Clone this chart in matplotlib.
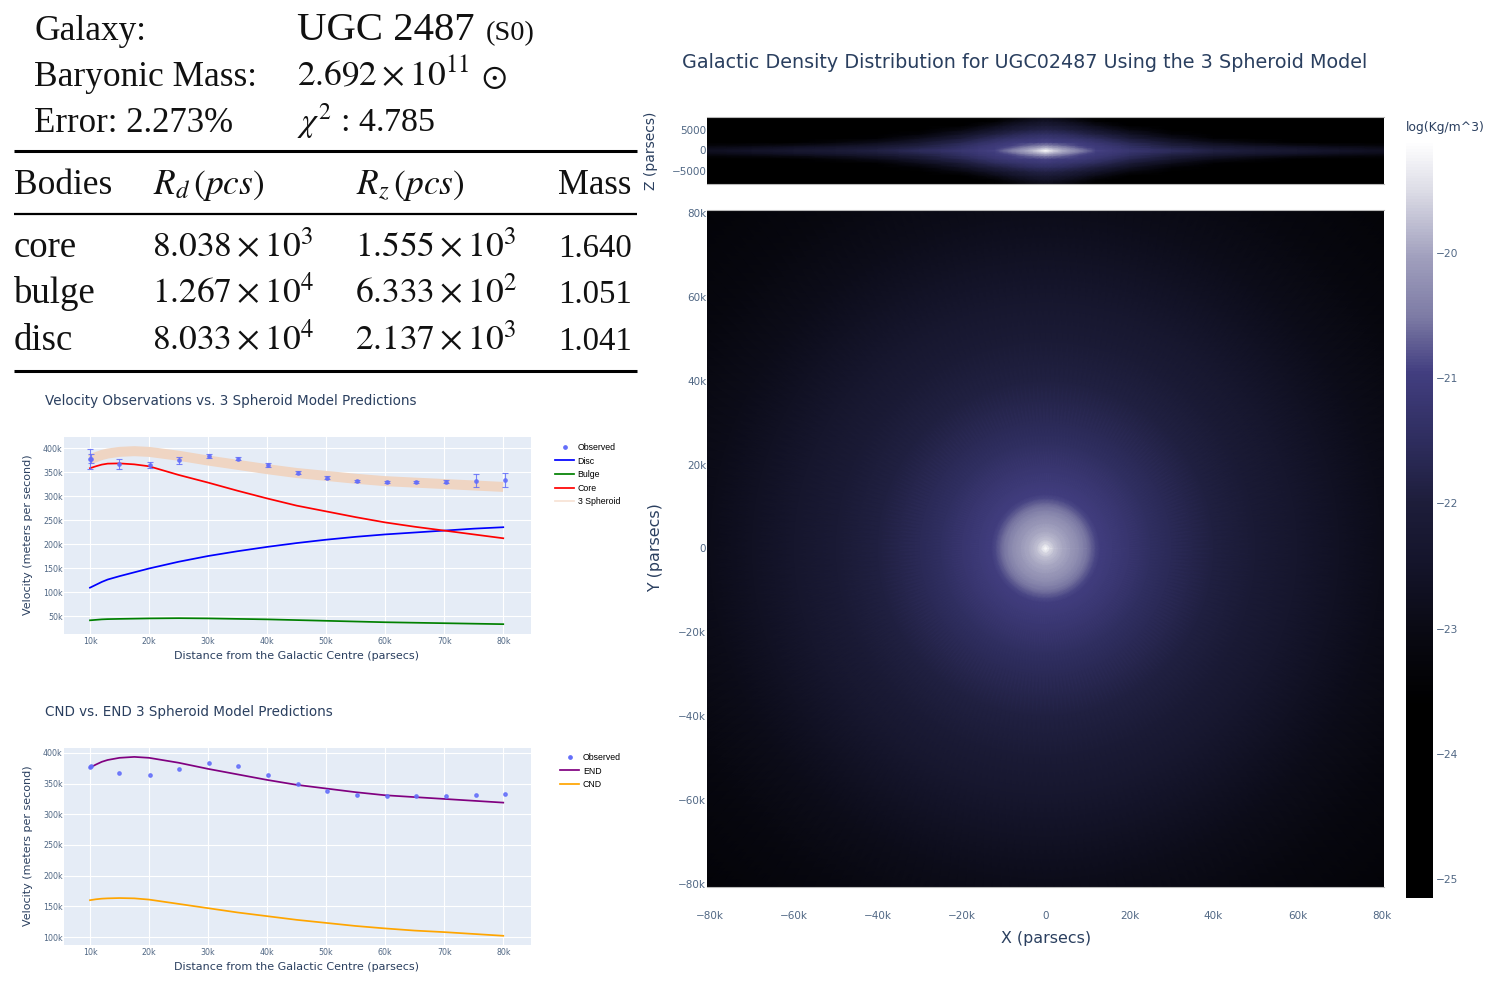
import matplotlib
matplotlib.use("Agg")
import matplotlib.pyplot as plt
import numpy as np
from matplotlib.colors import LinearSegmentedColormap

W, H = 1488, 985
plt.rcParams['font.family'] = ['DejaVu Sans']
plt.rcParams['mathtext.fontset'] = 'stix'

TXT = '#2a3f5f'
TICK = '#506784'

# ---- rotation curves (x in kpc, velocities in km/s)
obs_x = [10, 10.2, 15, 20.1, 25.1, 30.1, 35.1, 40.1, 45.2, 50.2, 55.2, 60.3, 65.3, 70.3, 75.3, 80.3]
obs_v = [377, 378, 367, 364, 374.5, 383, 378, 364, 349, 338, 332, 330, 329, 330, 332, 333]
obs_err = [20, 10, 11, 6, 7, 4, 2.5, 4, 3, 3, 2, 2, 2, 3, 13, 15]

model_x = [10, 11, 12, 13, 15, 17.5, 20, 25, 30, 35, 40, 45, 50, 55, 60, 65, 70, 75, 80]
core_v = [358, 362, 365.5, 367.5, 368, 366, 362, 344, 328, 311, 295, 280, 268, 256, 245, 236, 228, 220, 212]
disc_v = [109, 115, 121, 126, 133, 141, 149, 163, 175, 185, 194, 202, 209, 215, 220, 224, 228, 232, 235]
bulge_v = [41, 42, 43, 43.5, 44, 44.5, 45, 45.5, 45, 44, 43, 41.5, 40, 38.5, 37, 36, 35, 34, 33]
spheroid_v = [376, 381, 385.5, 388.5, 392, 393.5, 392, 384, 374, 365, 356, 348, 342, 336, 331, 328, 325, 322, 319]
end_v = [376, 381, 385.5, 388.5, 392, 393.5, 392, 384, 374, 365, 356, 348, 342, 336, 331, 328, 325, 322, 319]
cnd_v = [160, 161.5, 162.5, 163, 163.5, 163, 161, 154, 147, 140, 134, 128, 123, 118, 114, 110.5, 108, 105, 102]

x_ticks = [10, 20, 30, 40, 50, 60, 70, 80]
x_labels = ['10k', '20k', '30k', '40k', '50k', '60k', '70k', '80k']
top_y_ticks = [50, 100, 150, 200, 250, 300, 350, 400]
top_y_labels = ['50k', '100k', '150k', '200k', '250k', '300k', '350k', '400k']
low_y_ticks = [100, 150, 200, 250, 300, 350, 400]
low_y_labels = ['100k', '150k', '200k', '250k', '300k', '350k', '400k']

# ---- density maps, log10 of the density
face_r = [0, 0.5, 1, 2, 3, 4, 6, 8, 10, 11, 12, 13, 16, 20, 25, 30, 40, 50, 60, 70, 80, 95, 116]
face_log = [-19.1, -19.3, -19.5, -19.72, -19.85, -19.95, -20.12, -20.3, -20.55, -20.72, -20.88, -20.98,
            -21.1, -21.25, -21.45, -21.6, -21.9, -22.15, -22.4, -22.65, -22.9, -23.15, -23.4]

edge_x = [0, 1, 2, 4, 6, 8, 10, 12, 16, 20, 30, 40, 50, 60, 70, 82]
edge_z = [0, 0.3, 0.7, 1.2, 2, 3, 4, 5, 6, 7, 8.3]
edge_log = [
    [-19.1, -19.35, -19.6, -19.9, -20.15, -20.4, -20.65, -20.9, -21.05, -21.2, -21.55, -21.85, -22.1, -22.3, -22.5, -22.7],
    [-19.45, -19.6, -19.75, -20.0, -20.25, -20.5, -20.75, -20.98, -21.1, -21.25, -21.6, -21.95, -22.2, -22.4, -22.6, -22.8],
    [-19.85, -19.95, -20.05, -20.25, -20.5, -20.75, -20.9, -21.02, -21.15, -21.35, -21.75, -22.1, -22.35, -22.55, -22.75, -22.95],
    [-20.35, -20.4, -20.5, -20.65, -20.8, -20.92, -21.0, -21.08, -21.25, -21.45, -21.95, -22.4, -22.7, -22.95, -23.15, -23.3],
    [-20.9, -20.92, -20.95, -21.0, -21.03, -21.08, -21.15, -21.25, -21.45, -21.7, -22.35, -22.9, -23.3, -23.6, -23.8, -24.0],
    [-21.15, -21.15, -21.18, -21.22, -21.28, -21.35, -21.45, -21.55, -21.8, -22.1, -22.85, -23.5, -23.9, -24.2, -24.5, -24.7],
    [-21.45, -21.45, -21.48, -21.52, -21.6, -21.7, -21.82, -21.95, -22.25, -22.6, -23.4, -24.0, -24.4, -24.7, -25.0, -25.0],
    [-21.8, -21.82, -21.85, -21.9, -22.0, -22.12, -22.25, -22.42, -22.75, -23.1, -23.9, -24.5, -24.9, -25.0, -25.0, -25.0],
    [-22.15, -22.15, -22.2, -22.28, -22.4, -22.55, -22.72, -22.92, -23.3, -23.65, -24.4, -25.0, -25.0, -25.0, -25.0, -25.0],
    [-22.55, -22.55, -22.6, -22.7, -22.85, -23.02, -23.2, -23.45, -23.85, -24.2, -24.9, -25.0, -25.0, -25.0, -25.0, -25.0],
    [-23.05, -23.05, -23.1, -23.2, -23.35, -23.55, -23.8, -24.05, -24.45, -24.85, -25.0, -25.0, -25.0, -25.0, -25.0, -25.0],
]

cb_ticks = [-20, -21, -22, -23, -24, -25]
cb_levels = [-25.15, -23.6, -23, -22.5, -22, -21.5, -20.95, -20.5, -20, -19.5, -19.1]
cb_colors = ['#000000', '#000000', '#0a0a14', '#14142a', '#1d1d3a', '#2e2d5e', '#423e80',
             '#7d7ba5', '#a3a2bf', '#dcdce6', '#ffffff']
vmin, vmax = cb_levels[0], cb_levels[-1]
dens_cmap = LinearSegmentedColormap.from_list(
    'dens', [((l - vmin) / (vmax - vmin), c) for l, c in zip(cb_levels, cb_colors)])

map_x_ticks = [-80, -60, -40, -20, 0, 20, 40, 60, 80]
map_labels = ['\u221280k', '\u221260k', '\u221240k', '\u221220k', '0', '20k', '40k', '60k', '80k']
z_ticks = [-5, 0, 5]
z_labels = ['\u22125000', '0', '5000']

# table on the top left
table_rows = [
    ('core', r'$8.038\times10^{3}$', r'$1.555\times10^{3}$', '1.640'),
    ('bulge', r'$1.267\times10^{4}$', r'$6.333\times10^{2}$', '1.051'),
    ('disc', r'$8.033\times10^{4}$', r'$2.137\times10^{3}$', '1.041'),
]
row_base = [257, 303, 350]


def px_axes(fig, l, t, r, b):
    return fig.add_axes([l / W, 1 - b / H, (r - l) / W, (b - t) / H])


fig = plt.figure(figsize=(W / 100, H / 100), dpi=100, facecolor='white')

# overlay in pixel coordinates for the table and loose labels
ov = fig.add_axes([0, 0, 1, 1], zorder=10)
ov.set_xlim(0, W)
ov.set_ylim(H, 0)
ov.axis('off')
ov.patch.set_alpha(0)


def serif(x, y, s, size=25.5):
    ov.text(x, y, s, fontsize=size, family='Liberation Serif', color='#111111', va='baseline', ha='left')


serif(34, 40, 'Galaxy:')
serif(297, 40, 'UGC 2487', 29.3)
serif(486, 40, '(S0)', 20.5)
serif(34, 86, 'Baryonic Mass:')
serif(297, 86, r'$2.692\times10^{11}$')
serif(481, 86, r'$\odot$', 24)
serif(34, 132, 'Error: 2.273%', 25)
serif(297, 132, r'$\chi^{2}$ : 4.785', 24.5)
serif(14, 194, 'Bodies')
serif(153, 194, r'$R_{d}\,(pcs)$')
serif(356, 194, r'$R_{z}\,(pcs)$')
serif(558, 194, 'Mass', 25)
for (name, rd, rz, mass), yb in zip(table_rows, row_base):
    serif(14, yb, name, 26.5)
    serif(152, yb, rd)
    serif(355, yb, rz)
    serif(558, yb, mass, 23.7)
for y, lw in [(150.5, 2.2), (214, 1.6), (370.5, 2.2)]:
    ov.plot([14, 637], [y, y], color='black', lw=lw, solid_capstyle='butt')


def rotation_panel(box, ylim, yticks, ylabels, title, title_y, xlabel_y, ylabel_y):
    ax = px_axes(fig, *box)
    ax.set_facecolor('#e5ecf6')
    ax.set_xlim(5.6, 84.7)
    ax.set_ylim(*ylim)
    ax.set_xticks(x_ticks, x_labels)
    ax.set_yticks(yticks, ylabels)
    ax.tick_params(length=0, labelsize=5.7, labelcolor=TICK, pad=1)
    ax.tick_params(axis='x', pad=2)
    ax.grid(color='white', lw=0.8)
    ax.set_axisbelow(True)
    for s in ax.spines.values():
        s.set_visible(False)
    ov.text(45, title_y, title, fontsize=9.72, color=TXT, va='center')
    ov.text(296, xlabel_y, 'Distance from the Galactic Centre (parsecs)', fontsize=8,
            color=TXT, va='center', ha='center')
    ov.text(28, ylabel_y, 'Velocity (meters per second)', fontsize=8, color=TXT,
            va='center', ha='center', rotation=90)
    return ax


# velocity panel
ax1 = rotation_panel((64, 437, 531, 634), (12.5, 423), top_y_ticks, top_y_labels,
                     'Velocity Observations vs. 3 Spheroid Model Predictions', 401, 656, 535)
ax1.plot(model_x, spheroid_v, color='#efd5c3', lw=7.2, solid_capstyle='butt', zorder=2)
ax1.plot(model_x, disc_v, color='blue', lw=1.25, label='Disc', zorder=3)
ax1.plot(model_x, bulge_v, color='green', lw=1.25, label='Bulge', zorder=3)
ax1.plot(model_x, core_v, color='red', lw=1.25, label='Core', zorder=3)
ax1.errorbar(obs_x, obs_v, yerr=obs_err, fmt='o', ms=2.4, color='#636efa', alpha=0.85,
             elinewidth=0.8, capsize=2, capthick=0.8, zorder=4)
h_obs = plt.Line2D([], [], ls='', marker='o', ms=2.4, color='#636efa')
h_3s = plt.Line2D([], [], color='#f7e3d5', lw=1.25)
h, lab = ax1.get_legend_handles_labels()
fig.legend([h_obs] + h + [h_3s], ['Observed'] + lab + ['3 Spheroid'],
           loc='upper left', bbox_to_anchor=(555 / W, 1 - 443 / H), frameon=False,
           prop={'family': 'Liberation Sans', 'size': 6.3}, handlelength=2.2,
           handletextpad=0.4, labelspacing=0.52, borderpad=0, borderaxespad=0)

# CND vs END panel
ax2 = rotation_panel((64, 748, 531, 945), (87, 408), low_y_ticks, low_y_labels,
                     'CND vs. END 3 Spheroid Model Predictions', 712, 967, 846)
ax2.plot(model_x, end_v, color='purple', lw=1.25, label='END', zorder=3)
ax2.plot(model_x, cnd_v, color='orange', lw=1.25, label='CND', zorder=3)
ax2.plot(obs_x, obs_v, 'o', ms=2.4, color='#636efa', alpha=0.85, zorder=4)
h, lab = ax2.get_legend_handles_labels()
fig.legend([h_obs] + h, ['Observed'] + lab,
           loc='upper left', bbox_to_anchor=(560 / W, 1 - 753 / H), frameon=False,
           prop={'family': 'Liberation Sans', 'size': 6.3}, handlelength=2.2,
           handletextpad=0.4, labelspacing=0.52, borderpad=0, borderaxespad=0)

# face-on map, polar mesh so the radial readings stay circular
ax_main = px_axes(fig, 707, 210, 1384, 887)
theta = np.linspace(0, 2 * np.pi, 241)
R, T = np.meshgrid(face_r, theta)
C = np.tile(face_log, (len(theta), 1))
mesh = ax_main.pcolormesh(R * np.cos(T), R * np.sin(T), C, shading='gouraud',
                          cmap=dens_cmap, vmin=vmin, vmax=vmax)
ax_main.set_xlim(-80.6, 80.6)
ax_main.set_ylim(-80.6, 80.6)
ax_main.set_xticks(map_x_ticks, map_labels)
ax_main.set_yticks(map_x_ticks, map_labels)
ax_main.tick_params(length=0, labelsize=7.5, labelcolor=TICK)
ax_main.tick_params(axis='x', pad=17)
ax_main.tick_params(axis='y', pad=0.5)

# edge-on map, mirrored from the table of |x|, |z| readings
ax_edge = px_axes(fig, 707, 117, 1384, 184)
e = np.array(edge_log)
ex = np.array(edge_x, dtype=float)
ez = np.array(edge_z, dtype=float)
e = np.hstack([e[:, :0:-1], e])
e = np.vstack([e[:0:-1, :], e])
ex = np.concatenate([-ex[:0:-1], ex])
ez = np.concatenate([-ez[:0:-1], ez])
ax_edge.pcolormesh(ex, ez, e, shading='gouraud', cmap=dens_cmap, vmin=vmin, vmax=vmax)
ax_edge.set_xlim(-80.6, 80.6)
ax_edge.set_ylim(-8, 8)
ax_edge.set_xticks([])
ax_edge.set_yticks(z_ticks, z_labels)
ax_edge.tick_params(length=0, labelsize=7.5, labelcolor=TICK, pad=0.5)

for a in (ax_main, ax_edge):
    for side in ('left', 'right'):
        a.spines[side].set_visible(False)
    for side in ('top', 'bottom'):
        a.spines[side].set_color('#b8b8b8')
        a.spines[side].set_linewidth(0.8)

# colorbar
cax = px_axes(fig, 1406, 140, 1433, 898)
cb = fig.colorbar(mesh, cax=cax, ticks=cb_ticks)
cb.outline.set_visible(False)
cb.ax.tick_params(length=0, labelsize=7.7, labelcolor=TICK, pad=2)

ov.text(682, 62, 'Galactic Density Distribution for UGC02487 Using the 3 Spheroid Model',
        fontsize=13.75, color=TXT, va='center')
ov.text(1406, 128, 'log(Kg/m^3)', fontsize=8.9, color=TXT, va='center')
ov.text(1046, 939, 'X (parsecs)', fontsize=11.4, color=TXT, va='center', ha='center')
ov.text(655.5, 548, 'Y (parsecs)', fontsize=11.4, color=TXT, va='center', ha='center', rotation=90)
ov.text(650.5, 151, 'Z (parsecs)', fontsize=10, color=TXT, va='center', ha='center', rotation=90)

fig.savefig('out.png', dpi=100)
